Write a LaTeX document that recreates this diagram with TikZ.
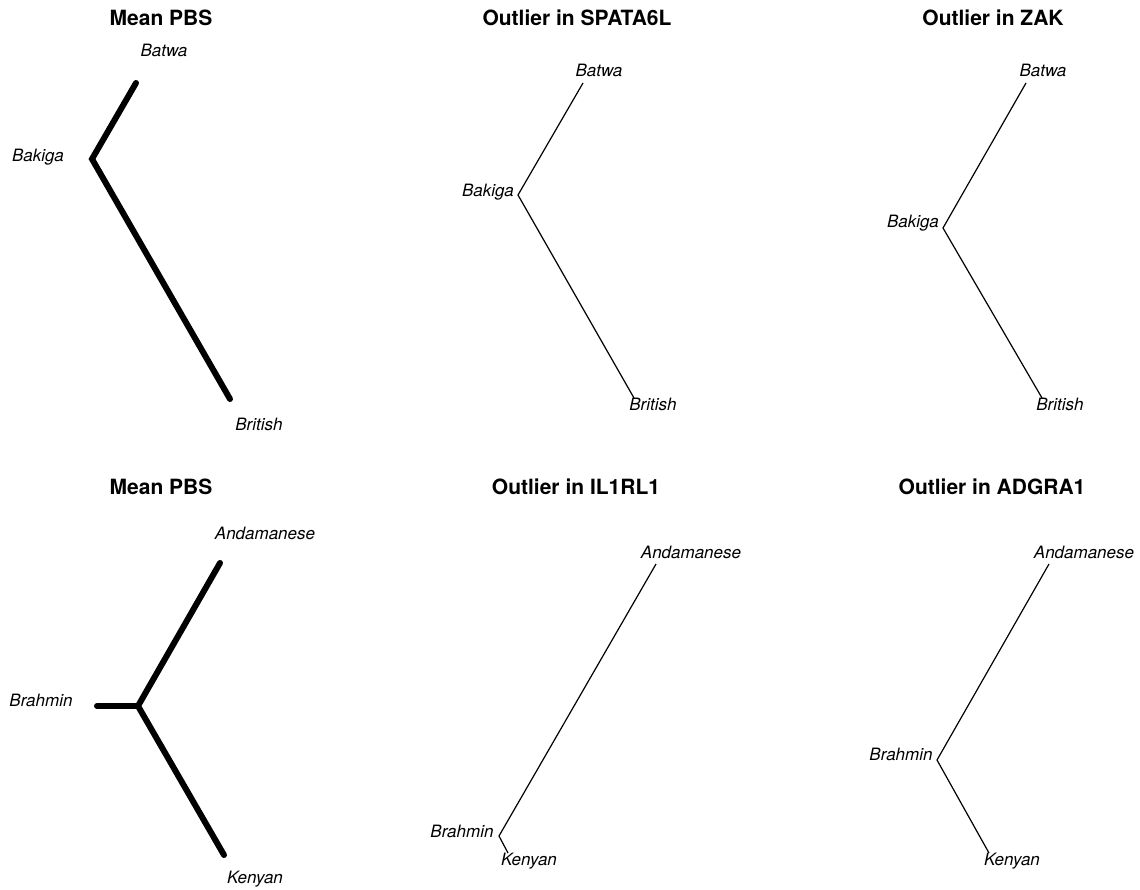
\documentclass[tikz,border=0pt]{standalone}
\usepackage{fontspec}
\setmainfont{TeX Gyre Heros}
\begin{document}
\begin{tikzpicture}[x=1pt,y=-1pt,
  ttl/.style={font=\fontsize{21}{24}\selectfont\bfseries,inner sep=0pt,anchor=base},
  lbl/.style={font=\fontsize{17}{20}\selectfont\itshape,inner sep=0pt,anchor=base},
  fatedge/.style={line width=6pt,line cap=round,line join=miter},
  thinedge/.style={line width=1.2pt,line cap=butt,line join=miter}]
\useasboundingbox (0,0) rectangle (1140,890);
% ---------- Panel 1: Mean PBS (top) ----------
\node[ttl] (t1) at (161,26) {Mean PBS};
\coordinate (a1) at (136,83);
\coordinate (b1) at (92,159);
\coordinate (c1) at (230,399);
\draw[fatedge] (a1) -- (b1) -- (c1);
\node[lbl] (la1) at (164,57) {Batwa};
\node[lbl] (lb1) at (38,162) {Bakiga};
\node[lbl] (lc1) at (259,430) {British};
% ---------- Panel 2: SPATA6L ----------
\node[ttl] (t2) at (577,26) {Outlier in SPATA6L};
\coordinate (a2) at (583,83);
\coordinate (b2) at (518,195);
\coordinate (c2) at (634,398);
\draw[thinedge] (a2) -- (b2) -- (c2);
\node[lbl] (la2) at (599,77) {Batwa};
\node[lbl] (lb2) at (488,197) {Bakiga};
\node[lbl] (lc2) at (653,410) {British};
% ---------- Panel 3: ZAK ----------
\node[ttl] (t3) at (993,26) {Outlier in ZAK};
\coordinate (a3) at (1026,83);
\coordinate (b3) at (943,228);
\coordinate (c3) at (1042,398);
\draw[thinedge] (a3) -- (b3) -- (c3);
\node[lbl] (la3) at (1043,77) {Batwa};
\node[lbl] (lb3) at (913,228) {Bakiga};
\node[lbl] (lc3) at (1060,410) {British};
% ---------- Panel 4: Mean PBS (bottom) ----------
\node[ttl] (t4) at (161,494) {Mean PBS};
\coordinate (a4) at (220,563);
\coordinate (j4) at (138,706);
\coordinate (b4) at (97,706);
\coordinate (c4) at (224,855);
\draw[fatedge] (a4) -- (j4) -- (c4);
\draw[fatedge] (b4) -- (j4);
\node[lbl] (la4) at (265,539) {Andamanese};
\node[lbl] (lb4) at (41,706) {Brahmin};
\node[lbl] (lc4) at (255,883) {Kenyan};
% ---------- Panel 5: IL1RL1 ----------
\node[ttl] (t5) at (576,494) {Outlier in IL1RL1};
\coordinate (a5) at (656,564);
\coordinate (b5) at (499,836);
\coordinate (c5) at (508,853);
\draw[thinedge] (a5) -- (b5) -- (c5);
\node[lbl] (la5) at (691,558) {Andamanese};
\node[lbl] (lb5) at (462,837) {Brahmin};
\node[lbl] (lc5) at (529,865) {Kenyan};
% ---------- Panel 6: ADGRA1 ----------
\node[ttl] (t6) at (992,494) {Outlier in ADGRA1};
\coordinate (a6) at (1049,564);
\coordinate (b6) at (937,760);
\coordinate (c6) at (989,853);
\draw[thinedge] (a6) -- (b6) -- (c6);
\node[lbl] (la6) at (1084,558) {Andamanese};
\node[lbl] (lb6) at (901,760) {Brahmin};
\node[lbl] (lc6) at (1012,865) {Kenyan};
\end{tikzpicture}
\end{document}
